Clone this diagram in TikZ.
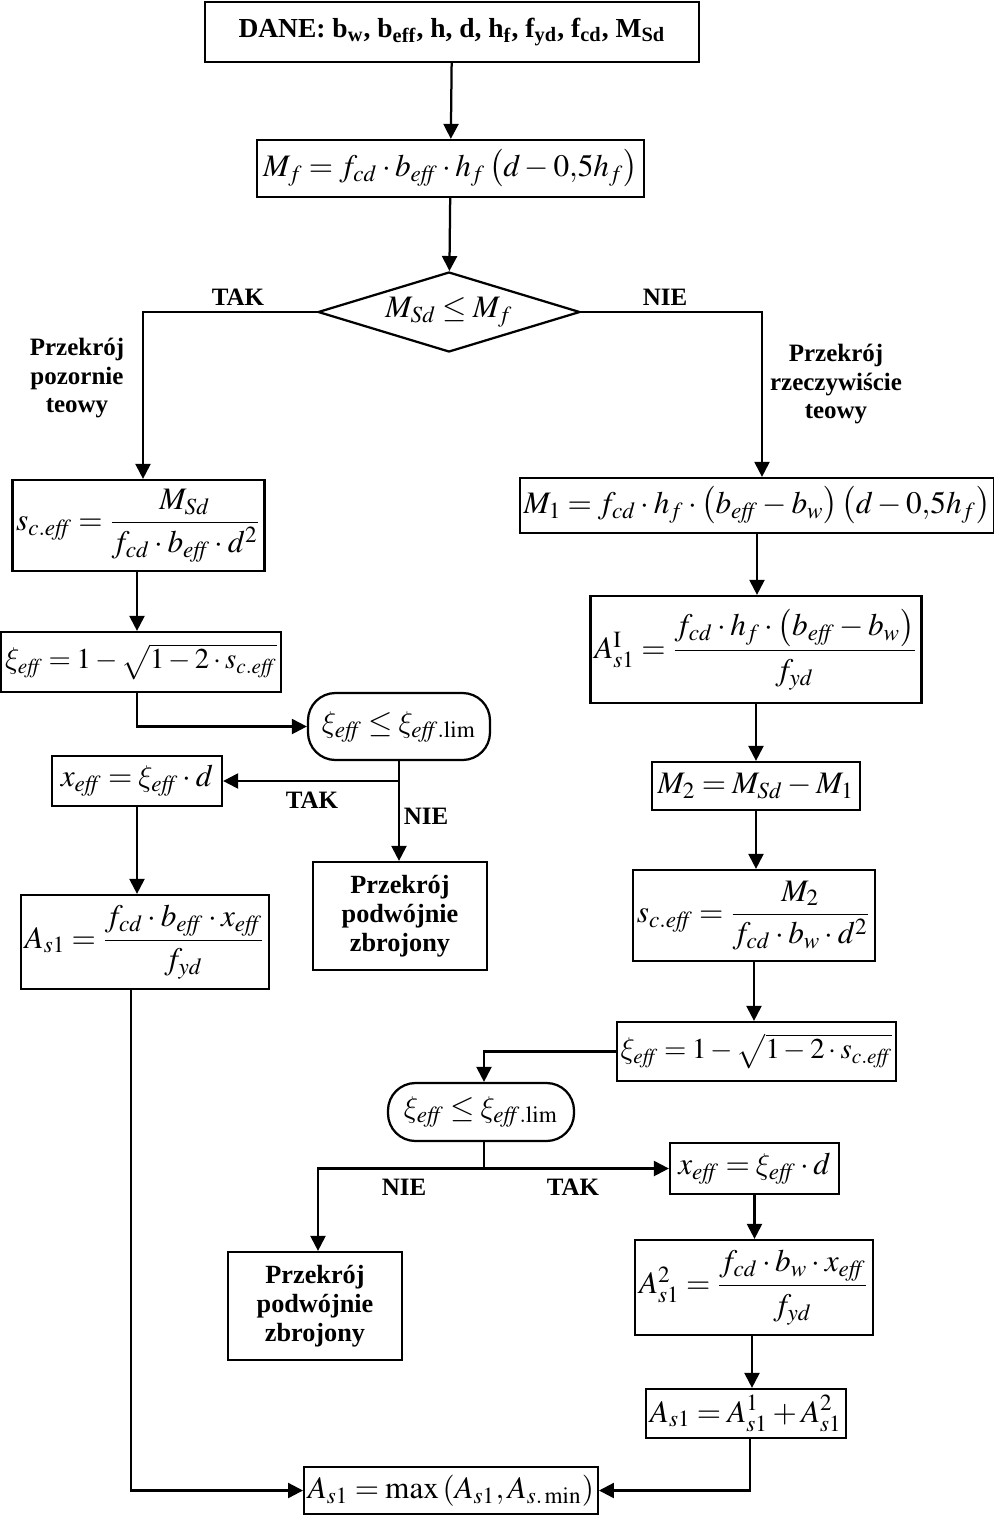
\documentclass[tikz,border=0pt]{standalone}
\usepackage{amsmath}
\usepackage{mathptmx}
\usepackage{fontspec}
\setmainfont{Liberation Serif}
\DeclareSymbolFont{cmlitery}{OML}{cmm}{m}{it}
\DeclareMathSymbol{\xi}{\mathord}{cmlitery}{"18}
\everymath{\medmuskip=2.5mu\relax\thickmuskip=3.5mu\relax}
\usetikzlibrary{shapes.geometric, arrows.meta}

\begin{document}
\begin{tikzpicture}[x=0.4pt,y=-0.4pt,
  blok/.style={draw,line width=0.9pt,inner sep=0pt,inner xsep=1.5pt,font=\fontsize{12.5}{14}\selectfont},
  warunek/.style={blok,rounded corners=11pt},
  opis/.style={font=\bfseries\fontsize{10}{11.4}\selectfont,align=center},
  opisblok/.style={blok,align=center,font=\bfseries\fontsize{10.5}{11.6}\selectfont},
  linia/.style={line width=0.9pt},
  strz/.style={line width=0.9pt,-{Triangle[length=6pt,width=6pt]}}]
\useasboundingbox (0,0) rectangle (994,1516);

\node[blok,minimum width=197.6pt,minimum height=24pt,font=\bfseries\fontsize{11}{13}\selectfont] (dane) at (452,32)
  {DANE: b\textsubscript{w}, b\textsubscript{eff}, h, d, h\textsubscript{f}, f\textsubscript{yd}, f\textsubscript{cd}, M\textsubscript{Sd}};
\node[blok,minimum width=154.8pt,minimum height=22.8pt] (mf) at (450.5,168.5)
  {$M_f=f_{cd}\cdot b_{\mathit{eff}}\cdot h_f\left(d-0{,}5h_f\right)$};
\node[blok,diamond,aspect=3.3,minimum width=104.8pt,minimum height=32pt] (war1) at (449,312)
  {$M_{Sd}\le M_f$};
\node[opis] (tak1) at (238,297) {TAK};
\node[opis] (nie1) at (665,297) {NIE};
\node[opis] (pozorny) at (77,378) {Przekrój\\pozornie\\teowy};
\node[opis] (rzecz) at (836,384) {Przekrój\\rzeczywiście\\teowy};

\node[blok,minimum width=100.4pt,minimum height=36.4pt] (scL) at (138.5,525.5)
  {$s_{c.\mathit{eff}}=\dfrac{M_{Sd}}{f_{cd}\cdot b_{\mathit{eff}}\cdot d^2}$};
\node[blok,minimum width=111.2pt,minimum height=24pt,font=\fontsize{11.5}{14}\selectfont] (xiL) at (141,662)
  {$\xi_{\mathit{eff}}=1-\sqrt{1-2\cdot s_{c.\mathit{eff}}}$};
\node[warunek,minimum width=72.8pt,minimum height=26.8pt] (limL) at (399,726.5)
  {$\xi_{\mathit{eff}}\le\xi_{\mathit{eff}.\mathrm{lim}}$};
\node[blok,minimum width=68pt,minimum height=20pt] (xeffL) at (137,781)
  {$x_{\mathit{eff}}=\xi_{\mathit{eff}}\cdot d$};
\node[blok,minimum width=96.8pt,minimum height=37.6pt] (asL) at (145,942)
  {$A_{s1}=\dfrac{f_{cd}\cdot b_{\mathit{eff}}\cdot x_{\mathit{eff}}}{f_{yd}}$};
\node[opisblok,minimum width=69.6pt,minimum height=43.2pt] (podwL) at (400,916)
  {Przekrój\\podwójnie\\zbrojony};
\node[opis] (tak2) at (312,800) {TAK};
\node[opis] (nie2) at (426,816) {NIE};

\node[blok,minimum width=184.8pt,minimum height=22pt] (m1) at (757,505.5)
  {$M_1=f_{cd}\cdot h_f\cdot\left(b_{\mathit{eff}}-b_w\right)\left(d-0{,}5h_f\right)$};
\node[blok,minimum width=126.4pt,minimum height=42.8pt] (as1) at (756,649.5)
  {$A_{s1}^{\mathrm{I}}=\dfrac{f_{cd}\cdot h_f\cdot\left(b_{\mathit{eff}}-b_w\right)}{f_{yd}}$};
\node[blok,minimum width=83.2pt,minimum height=19.2pt] (m2) at (756,786)
  {$M_2=M_{Sd}-M_1$};
\node[blok,minimum width=95.2pt,minimum height=36.4pt] (scR) at (754,915.5)
  {$s_{c.\mathit{eff}}=\dfrac{M_2}{f_{cd}\cdot b_w\cdot d^2}$};
\node[blok,minimum width=110.8pt,minimum height=23.6pt,font=\fontsize{11.5}{14}\selectfont] (xiR) at (756.5,1051.5)
  {$\xi_{\mathit{eff}}=1-\sqrt{1-2\cdot s_{c.\mathit{eff}}}$};
\node[warunek,minimum width=74.4pt,minimum height=23.2pt] (limR) at (481,1112)
  {$\xi_{\mathit{eff}}\le\xi_{\mathit{eff}.\mathrm{lim}}$};
\node[blok,minimum width=67.6pt,minimum height=20.4pt] (xeffR) at (754.5,1168.5)
  {$x_{\mathit{eff}}=\xi_{\mathit{eff}}\cdot d$};
\node[blok,minimum width=89.6pt,minimum height=38pt] (as2) at (754,1287.5)
  {$A_{s1}^2=\dfrac{f_{cd}\cdot b_w\cdot x_{\mathit{eff}}}{f_{yd}}$};
\node[blok,minimum width=73.6pt,minimum height=19.6pt] (suma) at (746,1413.5)
  {$A_{s1}=A_{s1}^1+A_{s1}^2$};
\node[opisblok,minimum width=69.6pt,minimum height=43.2pt] (podwR) at (315,1306)
  {Przekrój\\podwójnie\\zbrojony};
\node[opis] (nie3) at (404,1187) {NIE};
\node[opis] (tak3) at (573,1187) {TAK};
\node[blok,minimum width=114.4pt,minimum height=18.8pt] (wynik) at (451,1490.5)
  {$A_{s1}=\max\left(A_{s1},A_{s.\min}\right)$};

\draw[strz] (dane) -- (mf);
\draw[strz] (mf) -- (war1);
\draw[strz] (war1.west) -| ([xshift=1.8pt]scL.north);
\draw[strz] (war1.east) -| ([xshift=2pt]m1.north);
\draw[strz] ([xshift=-0.6pt]scL.south) -- ([xshift=-0.6pt]scL.south |- xiL.north);
\draw[strz] ([xshift=-1.6pt]xiL.south) |- (limL.west);
\draw[strz] (limL.south) -- (limL.south |- podwL.north);
\coordinate (rozgL) at (limL.south |- xeffL.east);
\draw[strz] (rozgL) -- (xeffL.east);
\draw[strz] (xeffL.south) -- (xeffL.south |- asL.north);
\draw[strz] ([xshift=-5.6pt]asL.south) |- (wynik.west);

\draw[strz] (m1.south) -- (m1.south |- as1.north);
\draw[strz] (as1.south) -- (as1.south |- m2.north);
\draw[strz] (m2.south) -- (m2.south |- scR.north);
\draw[strz] (scR.south) -- (scR.south |- xiR.north);
\draw[strz] (xiR.west) -| ([xshift=1.2pt]limR.north);
\coordinate (rozgR) at ([xshift=1.2pt]limR.south |- xeffR.west);
\draw[linia] ([xshift=1.2pt]limR.south) -- (rozgR);
\draw[strz] (rozgR) -- (xeffR.west);
\draw[strz] (rozgR) -| ([xshift=1.2pt]podwR.north);
\draw[strz] (xeffR.south) -- (xeffR.south |- as2.north);
\draw[strz] ([xshift=-0.8pt]as2.south) -- ([xshift=-0.8pt]as2.south |- suma.north);
\draw[strz] ([xshift=1.6pt]suma.south) |- (wynik.east);

\end{tikzpicture}
\end{document}
